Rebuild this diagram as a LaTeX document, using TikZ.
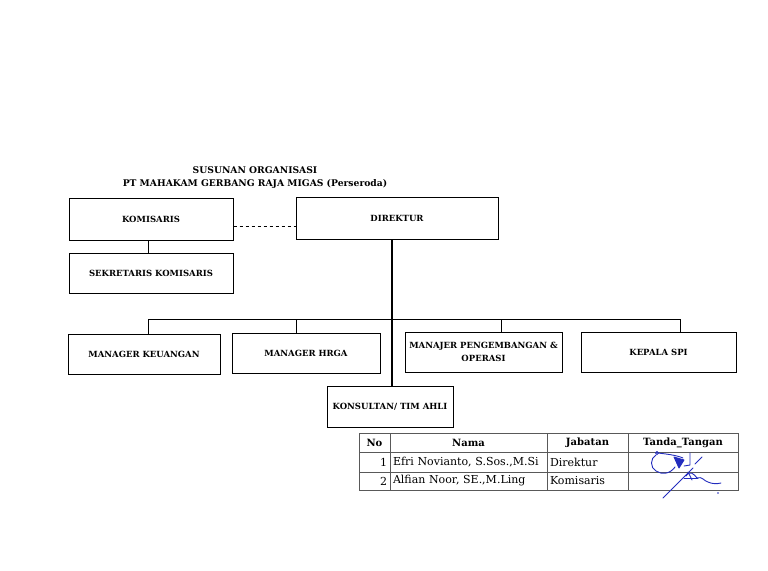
\documentclass[tikz,border=0pt]{standalone}
\usepackage{fontspec}
\setmainfont{DejaVu Serif}
\definecolor{signblue}{RGB}{35,45,190}
\begin{document}
\begin{tikzpicture}[x=1pt,y=-1pt,
  orgbox/.style={draw, line width=1pt, inner sep=2pt, align=center,
    font=\bfseries\fontsize{8.5}{13}\selectfont},
  cell/.style={draw=black!65, line width=0.6pt, inner xsep=3pt, inner ysep=0pt,
    font=\fontsize{11}{12}\selectfont},
  headcell/.style={cell, align=center, font=\bfseries\fontsize{10}{12}\selectfont},
  sign/.style={draw=signblue, line width=0.9pt, line cap=round, line join=round}]
\useasboundingbox (0,0) rectangle (768,570);

% judul
\node[font=\bfseries\fontsize{9.2}{13}\selectfont, align=center] (judul) at (255,177.5)
  {SUSUNAN ORGANISASI\\PT MAHAKAM GERBANG RAJA MIGAS (Perseroda)};

% kotak jabatan
\node[orgbox, minimum width=164pt, minimum height=42pt] (kom) at (151,219) {KOMISARIS};
\node[orgbox, minimum width=202pt, minimum height=42pt] (dir) at (397,218) {DIREKTUR};
\node[orgbox, minimum width=164pt, minimum height=40pt] (sekkom) at (151,273) {SEKRETARIS KOMISARIS};
\node[orgbox, minimum width=152pt, minimum height=40pt] (keu) at (144,354) {MANAGER KEUANGAN};
\node[orgbox, minimum width=148pt, minimum height=40pt] (hrga) at (306,353) {MANAGER HRGA};
\node[orgbox, minimum width=157pt, minimum height=40pt] (opr) at (483.5,352) {MANAJER PENGEMBANGAN \&\\OPERASI};
\node[orgbox, minimum width=155pt, minimum height=40pt] (spi) at (658.5,352) {KEPALA SPI};
\node[orgbox, minimum width=126pt, minimum height=41pt] (kons) at (390,406.5) {KONSULTAN/ TIM AHLI};

% garis
\draw[line width=0.9pt, dashed] (kom.east |- 0,226) -- (dir.west |- 0,226);
\draw[line width=1pt] (148,0 |- kom.south) -- (148,0 |- sekkom.north);
\coordinate (dirbawah) at (dir.south -| 392,0);
\draw[line width=1.2pt] (dirbawah) -- (dirbawah |- kons.north);
\coordinate (d1) at (148,319);
\coordinate (d2) at (296,319);
\coordinate (d3) at (501,319);
\coordinate (d4) at (680,319);
\draw[line width=1pt] (d1 |- keu.north) -- (d1) -- (d4) -- (d4 |- spi.north);
\draw[line width=1pt] (d2) -- (d2 |- hrga.north);
\draw[line width=1pt] (d3) -- (d3 |- opr.north);

% tabel tanda tangan
\node[headcell, minimum width=31pt, minimum height=19pt] (hno) at (374.5,442.5) {No};
\node[headcell, minimum width=157pt, minimum height=19pt] (hnama) at (468.5,442.5) {Nama};
\node[headcell, minimum width=81pt, minimum height=19pt] (hjab) at (587.5,442.5) {Jabatan};
\node[headcell, minimum width=110pt, minimum height=19pt] (httd) at (683,442.5) {Tanda\_Tangan};

\node[cell, text width=25pt, align=right, minimum height=20pt] (no1) at (374.5,462) {1};
\node[cell, text width=151pt, align=left, minimum height=20pt] (nama1) at (468.5,462) {Efri Novianto, S.Sos.,M.Si};
\node[cell, text width=75pt, align=left, minimum height=20pt] (jab1) at (587.5,462) {Direktur};
\node[cell, text width=104pt, minimum height=20pt] (ttd1) at (683,462) {};

\node[cell, text width=25pt, align=right, minimum height=18pt] (no2) at (374.5,481) {2};
\node[cell, text width=151pt, align=left, minimum height=18pt] (nama2) at (468.5,481) {Alfian Noor, SE.,M.Ling};
\node[cell, text width=75pt, align=left, minimum height=18pt] (jab2) at (587.5,481) {Komisaris};
\node[cell, text width=104pt, minimum height=18pt] (ttd2) at (683,481) {};

% paraf
\draw[sign] (657,453) circle (1.5pt);
\draw[sign] (656,455) .. controls (650,458) and (650,468) .. (656,471)
  .. controls (662,475) and (670,474) .. (675,467);
\draw[sign] (658,453) .. controls (666,454) and (676,455) .. (683,458);
\filldraw[sign, fill=signblue] (674,457) -- (684,460) -- (679,468) -- cycle;
\draw[sign] (690,453) -- (690,465) -- (684,466);
\draw[sign] (702,457) -- (695,464);
\draw[sign] (663,498) -- (693,468);
\draw[sign] (686,476) .. controls (690,470) and (694,474) .. (697,478)
  .. controls (702,476) and (704,481) .. (708,482)
  .. controls (712,484) and (717,484) .. (721,483);
\draw[sign] (688,472) -- (692,480);
\draw[sign] (684,478) -- (698,478);
\fill[signblue] (718,493) circle (0.8pt);
\end{tikzpicture}
\end{document}
